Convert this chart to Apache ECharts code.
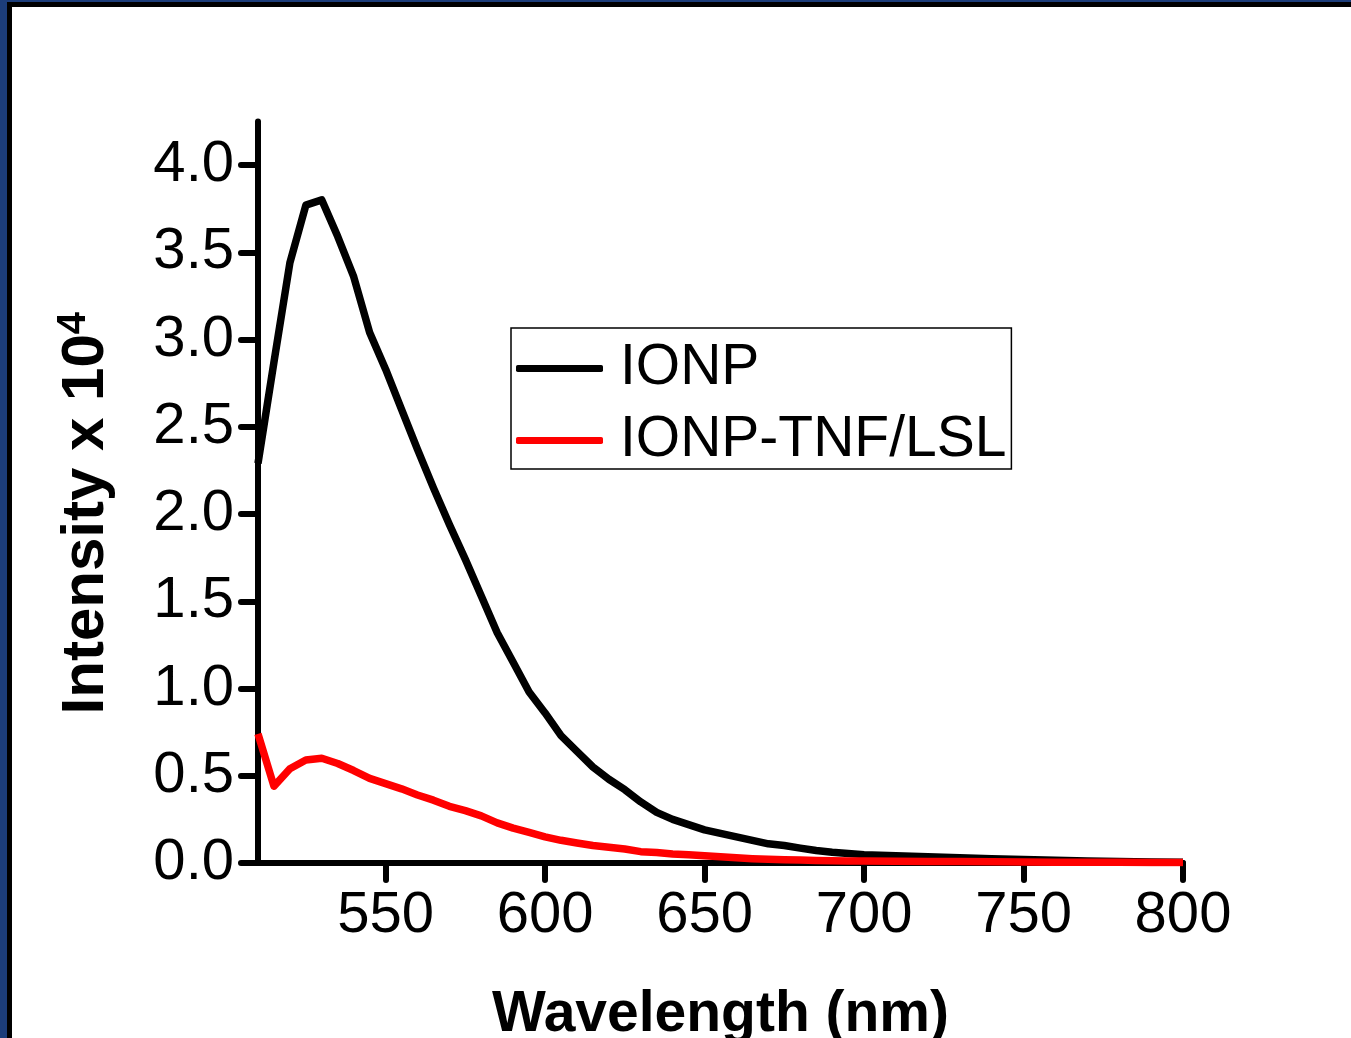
<!DOCTYPE html>
<html>
<head>
<meta charset="utf-8">
<script src="https://cdn.jsdelivr.net/npm/echarts@6/dist/echarts.min.js"></script>
<style>
html,body{margin:0;padding:0;background:#fff;}
#chart{width:1351px;height:1038px;}
</style>
</head>
<body>
<div id="chart"></div>
<script>
// Wavelength (nm)
const wavelengths = [510,515,520,525,530,535,540,545,550,555,560,565,570,575,580,585,590,595,600,605,610,615,620,625,630,635,640,645,650,655,660,665,670,675,680,685,690,695,700,710,720,730,740,750,760,770,780,790,800];
// Intensity x 10^4
const ionp = [2.29,2.87,3.44,3.77,3.80,3.59,3.36,3.04,2.83,2.60,2.37,2.15,1.94,1.74,1.53,1.32,1.15,0.98,0.86,0.73,0.64,0.55,0.48,0.42,0.35,0.29,0.25,0.22,0.19,0.17,0.15,0.13,0.11,0.10,0.085,0.072,0.062,0.055,0.048,0.042,0.036,0.030,0.025,0.020,0.016,0.012,0.009,0.006,0.004];
const ionpTnf = [0.74,0.44,0.54,0.59,0.60,0.57,0.53,0.485,0.455,0.425,0.39,0.36,0.325,0.30,0.27,0.23,0.20,0.175,0.15,0.13,0.115,0.10,0.09,0.08,0.065,0.06,0.052,0.047,0.042,0.036,0.030,0.025,0.022,0.019,0.017,0.015,0.013,0.012,0.011,0.010,0.009,0.008,0.007,0.006,0.005,0.004,0.004,0.003,0.003];
const xTicks = [550,600,650,700,750,800];
const yTicks = [0,0.5,1,1.5,2,2.5,3,3.5,4];
const seriesNames = ['IONP','IONP-TNF/LSL'];

const font = '"Liberation Sans", Arial, sans-serif';
const chart = echarts.init(document.getElementById('chart'));
const pairs = arr => wavelengths.map((w,i)=>[w,arr[i]]);

chart.setOption({
  animation:false,
  backgroundColor:'#fff',
  graphic:[
    {type:'rect', shape:{x:0,y:0,width:7,height:1038}, style:{fill:'#1c3d7a'}, z:-10},
    {type:'rect', shape:{x:0,y:0,width:1351,height:2}, style:{fill:'#1c3d7a'}, z:-10},
    {type:'rect', shape:{x:7,y:2,width:5,height:1036}, style:{fill:'#000'}, z:-10},
    {type:'rect', shape:{x:7,y:2,width:1344,height:5}, style:{fill:'#000'}, z:-10}
  ],
  grid:{left:258, right:168, top:121.4, bottom:175, containLabel:false, outerBoundsMode:'none'},
  legend:{
    orient:'vertical', left:511, top:328,
    padding:[12,5,0,5], itemGap:15,
    itemWidth:87, itemHeight:7,
    borderColor:'#000', borderWidth:1.5, borderRadius:0,
    backgroundColor:'#fff',
    icon:'roundRect',
    data:seriesNames,
    textStyle:{fontFamily:font, fontSize:57, color:'#000', lineHeight:55, padding:[0,0,0,12]}
  },
  xAxis:{
    type:'value', min:510, max:800,
    name:'Wavelength (nm)', nameLocation:'middle', nameGap:124,
    nameTextStyle:{fontFamily:font, fontSize:57, fontWeight:'bold', color:'#000'},
    axisLine:{show:true, onZero:false, lineStyle:{color:'#000', width:6, cap:'round'}},
    axisTick:{show:true, inside:false, length:17, customValues:xTicks, lineStyle:{color:'#000', width:6, cap:'round'}},
    axisLabel:{customValues:xTicks, fontFamily:font, fontSize:58, color:'#000', margin:24},
    splitLine:{show:false}
  },
  yAxis:{
    type:'value', min:0, max:4.25,
    name:'{a|Intensity x 10}{b|4}', nameLocation:'middle', nameGap:140, nameRotate:90,
    nameTextStyle:{
      padding:[0,42,0,0],
      rich:{
        a:{fontFamily:font, fontSize:60, fontWeight:'bold', color:'#000'},
        b:{fontFamily:font, fontSize:40, fontWeight:'bold', color:'#000', verticalAlign:'top', padding:[0,0,24,0]}
      }
    },
    axisLine:{show:true, onZero:false, lineStyle:{color:'#000', width:6, cap:'round'}},
    axisTick:{show:true, inside:false, length:17, customValues:yTicks, lineStyle:{color:'#000', width:6, cap:'round'}},
    axisLabel:{customValues:yTicks, fontFamily:font, fontSize:58, color:'#000', margin:24,
      formatter:v=>v.toFixed(1)},
    splitLine:{show:false}
  },
  series:[
    {name:seriesNames[0], type:'line', data:pairs(ionp), showSymbol:false, symbol:'none',
     lineStyle:{color:'#000', width:7.5, join:'round'}, itemStyle:{color:'#000'}, z:3},
    {name:seriesNames[1], type:'line', data:pairs(ionpTnf), showSymbol:false, symbol:'none',
     lineStyle:{color:'#ff0000', width:7.5, join:'round'}, itemStyle:{color:'#ff0000'}, z:4}
  ]
});
</script>
</body>
</html>
